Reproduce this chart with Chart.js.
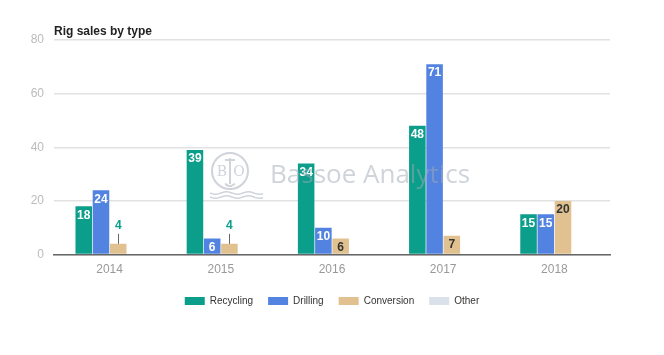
<!DOCTYPE html>
<html><head><meta charset="utf-8">
<script src="https://cdn.jsdelivr.net/npm/chart.js@4"></script>
<style>html,body{margin:0;padding:0;background:#fff}#wrap{width:664px;height:355px}</style>
</head><body><div id="wrap"><canvas id="c"></canvas></div>
<script>
const categories = ['2014','2015','2016','2017','2018'];
const recycling = [18, 39, 34, 48, 15];
const drilling = [24, 6, 10, 71, 15];
const conversion = [4, 4, 6, 7, 20];
const other = [0, 0, 0, 0, 0];
const yTicks = [0, 20, 40, 60, 80];

const colors = ['#0b9e8b', '#5283e0', '#e0c18f', '#dbe1ea'];
const labelColors = ['#ffffff', '#ffffff', '#333333', '#333333'];
const FONT = '"Liberation Sans", Arial, sans-serif';

const labelPlugin = {
  id: 'labels',
  afterDatasetsDraw(chart) {
    const ctx = chart.ctx;
    ctx.save();
    ctx.font = 'bold 12px ' + FONT;
    ctx.textAlign = 'center';
    chart.data.datasets.forEach((ds, di) => {
      if (di === 3) return;
      const meta = chart.getDatasetMeta(di);
      meta.data.forEach((bar, i) => {
        const v = ds.data[i];
        if (!v) return;
        const h = bar.base - bar.y;
        if (h < 14) {
          ctx.fillStyle = '#0b9e8b';
          ctx.textBaseline = 'bottom';
          ctx.fillText(String(v), bar.x, bar.y - 12);
          ctx.strokeStyle = '#666';
          ctx.lineWidth = 1;
          ctx.beginPath();
          ctx.moveTo(Math.round(bar.x) + 0.5, bar.y - 10);
          ctx.lineTo(Math.round(bar.x) + 0.5, bar.y);
          ctx.stroke();
        } else {
          ctx.fillStyle = labelColors[di];
          ctx.textBaseline = 'top';
          ctx.fillText(String(v), bar.x, bar.y + 3);
        }
      });
    });
    // watermark on top, translucent
    const c = 'rgba(160,168,182,0.5)';
    ctx.fillStyle = c;
    ctx.strokeStyle = c;
    ctx.font = '26px "Open Sans", "Liberation Sans", sans-serif';
    ctx.textBaseline = 'alphabetic';
    ctx.textAlign = 'left';
    ctx.fillText('Bassoe Analytics', 270, 183);
    ctx.lineWidth = 2;
    ctx.beginPath();
    ctx.arc(230, 171, 18, 0, Math.PI * 2);
    ctx.stroke();
    ctx.font = '14px "DejaVu Serif", serif';
    ctx.textAlign = 'center';
    ctx.fillText('B', 222, 176);
    ctx.fillText('O', 239, 176);
    ctx.beginPath();
    ctx.moveTo(230, 158); ctx.lineTo(230, 184);
    ctx.moveTo(225, 160); ctx.lineTo(235, 160);
    ctx.stroke();
    ctx.beginPath();
    ctx.arc(230, 180, 6, 0.2 * Math.PI, 0.8 * Math.PI);
    ctx.stroke();
    ctx.lineWidth = 1.5;
    for (let k = 0; k < 2; k++) {
      ctx.beginPath();
      const yy = 193 + k * 4;
      for (let x = 210; x <= 263; x += 1) {
        const y = yy + Math.sin((x - 210) / 3.5) * 1.2;
        if (x === 210) ctx.moveTo(x, y); else ctx.lineTo(x, y);
      }
      ctx.stroke();
    }
    ctx.restore();
  },
  afterDraw(chart) {
    const ctx = chart.ctx;
    ctx.save();
    ctx.fillStyle = '#222';
    ctx.font = 'bold 12px ' + FONT;
    ctx.textAlign = 'left';
    ctx.textBaseline = 'alphabetic';
    ctx.fillText('Rig sales by type', 54, 35);
    ctx.restore();
  }
};

new Chart(document.getElementById('c'), {
  type: 'bar',
  data: {
    labels: categories,
    datasets: [
      { label: 'Recycling', data: recycling, backgroundColor: colors[0] },
      { label: 'Drilling', data: drilling, backgroundColor: colors[1] },
      { label: 'Conversion', data: conversion, backgroundColor: colors[2] },
      { label: 'Other', data: other, backgroundColor: colors[3] }
    ]
  },
  options: {
    responsive: true,
    maintainAspectRatio: false,
    animation: false,
    layout: { padding: { left: 0, right: 0, top: 40, bottom: 39 } },
    datasets: { bar: { categoryPercentage: 0.62, barPercentage: 0.96 } },
    plugins: {
      title: { display: false },
      tooltip: { enabled: false },
      legend: {
        position: 'bottom',
        labels: {
          boxWidth: 20, boxHeight: 8, padding: 15,
          color: '#333',
          font: { size: 10, family: FONT }
        }
      }
    },
    scales: {
      x: {
        afterFit(scale) { scale.height += 4; },
        grid: { display: false },
        border: { color: '#666', width: 1.5 },
        ticks: { color: '#999', font: { size: 12, family: FONT }, padding: 0 }
      },
      y: {
        min: 0, max: 80,
        afterFit(scale) { scale.width = 54; },
        afterBuildTicks(scale) { scale.ticks = yTicks.map(v => ({ value: v })); },
        border: { display: false },
        grid: { color: '#e2e2e2', lineWidth: 1.5, drawTicks: false },
        ticks: { color: '#bbb', padding: 10, font: { size: 12, family: FONT } }
      },
      y2: {
        position: 'right',
        min: 0, max: 80,
        afterFit(scale) { scale.width = 54; },
        grid: { display: false },
        border: { display: false },
        ticks: { display: false }
      }
    }
  },
  plugins: [labelPlugin]
});
</script></body></html>
